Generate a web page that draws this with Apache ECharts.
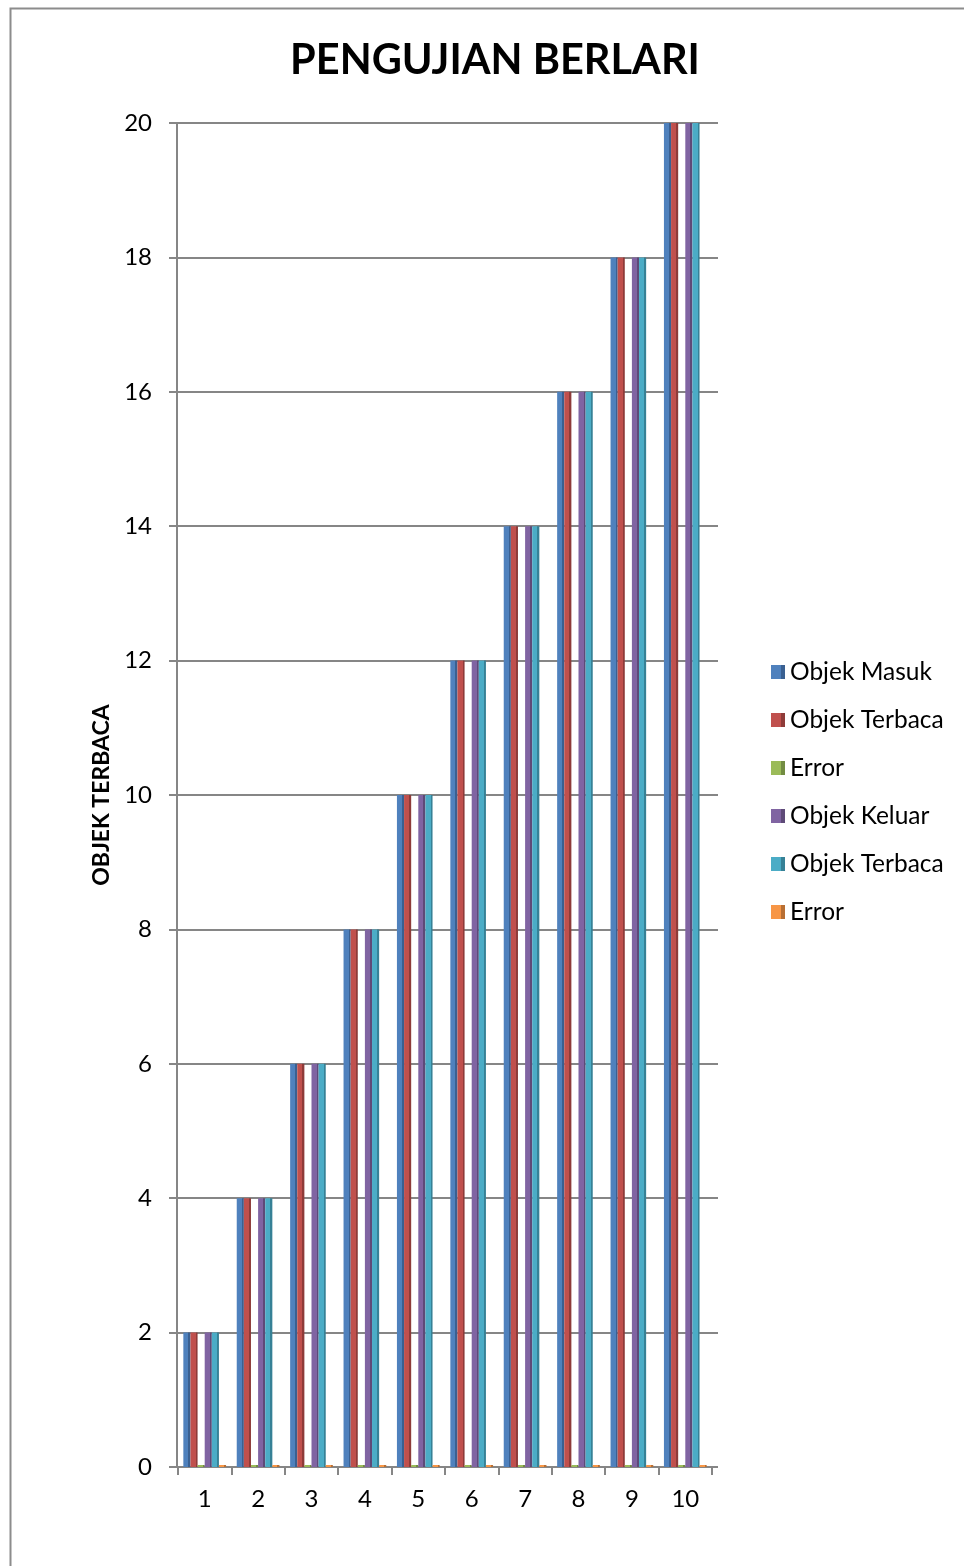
<!DOCTYPE html>
<html><head><meta charset="utf-8">
<script src="https://cdn.jsdelivr.net/npm/echarts@6/dist/echarts.min.js"></script>
<style>html,body{margin:0;padding:0;background:#fff}#c{width:964px;height:1566px}</style>
</head><body><div id="c"></div>
<script>
const categories = ['1','2','3','4','5','6','7','8','9','10'];
const objekMasuk   = [2,4,6,8,10,12,14,16,18,20];
const objekTerbaca = [2,4,6,8,10,12,14,16,18,20];
const error1       = [0,0,0,0,0,0,0,0,0,0];
const objekKeluar  = [2,4,6,8,10,12,14,16,18,20];
const objekTerbaca2= [2,4,6,8,10,12,14,16,18,20];
const error2       = [0,0,0,0,0,0,0,0,0,0];
const yTicks = {min:0, max:20, interval:2};
const seriesNames = ['Objek Masuk','Objek Terbaca','Error','Objek Keluar','Objek Terbaca (2)','Error (2)'];
const seriesData = [objekMasuk, objekTerbaca, error1, objekKeluar, objekTerbaca2, error2];
const colors = ['#4F81BD','#C0504D','#9BBB59','#8064A2','#4BACC6','#F79646'];
const darks  = ['#3A6091','#8E3B39','#728C42','#5E4A78','#368196','#B86F33'];
const FONT = 'Lato';
const GRAY = '#868686';

const chart = echarts.init(document.getElementById('c'));
chart.setOption({
  animation:false,
  backgroundColor:'#fff',
  color: colors,
  title:{text:'PENGUJIAN BERLARI', left:490, top:35, textAlign:'center',
    textStyle:{fontFamily:FONT, fontWeight:'bold', fontSize:41.5, color:'#000'}},
  legend:{orient:'vertical', left:766, top:654, itemWidth:14, itemHeight:14, itemGap:22,
    icon:'rect',
    formatter: n => n.replace(' (2)',''),
    textStyle:{fontFamily:FONT, fontSize:24.5, color:'#000', lineHeight:26}},
  graphic:[{type:'rect', shape:{x:10.5, y:8.5, width:1000, height:1600}, silent:true,
    style:{fill:'none', stroke:'#8c8c8c', lineWidth:2}}],
  grid:[
    {left:178, right:252, top:123, bottom:99},
    {left:177, right:246, top:123, bottom:99}
  ],
  xAxis:[
    {type:'category', data:categories, gridIndex:0,
      axisLine:{lineStyle:{color:GRAY, width:2}},
      axisTick:{show:true, length:8, lineStyle:{color:GRAY, width:2}},
      axisLabel:{fontFamily:FONT, fontSize:24, color:'#000', margin:20}},
    {type:'value', gridIndex:1, show:false, min:0, max:1}
  ],
  yAxis:[
    {type:'value', gridIndex:0, min:yTicks.min, max:yTicks.max, interval:yTicks.interval,
      show:false, splitLine:{show:false}},
    {type:'value', gridIndex:1, min:yTicks.min, max:yTicks.max, interval:yTicks.interval,
      name:'OBJEK TERBACA', nameLocation:'middle', nameGap:63,
      nameTextStyle:{fontFamily:FONT, fontWeight:'bold', fontSize:23, color:'#000'},
      axisLine:{show:true, lineStyle:{color:GRAY, width:2}},
      axisTick:{show:true, length:8, lineStyle:{color:GRAY, width:2}},
      splitLine:{lineStyle:{color:GRAY, width:2}},
      axisLabel:{fontFamily:FONT, fontSize:24, color:'#000', margin:25}}
  ],
  series: seriesNames.map((n,i)=>({
    name:n, type:'bar', data:seriesData[i], xAxisIndex:0, yAxisIndex:0,
    barGap:'0%', barCategoryGap:'20%',
    barMinHeight: 2,
    itemStyle:{color: new echarts.graphic.LinearGradient(0,0,1,0,[
      {offset:0,color:colors[i]},{offset:0.72,color:colors[i]},
      {offset:0.72,color:darks[i]},{offset:1,color:darks[i]}])}
  }))
});
</script></body></html>
